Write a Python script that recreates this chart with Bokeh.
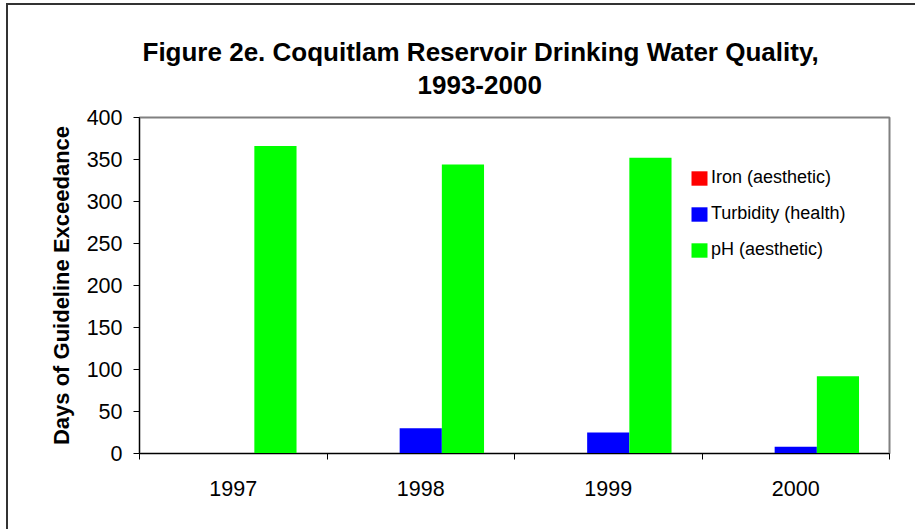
from bokeh.plotting import figure
from bokeh.models import ColumnDataSource, FixedTicker, Range1d, Legend, LegendItem, Title
from bokeh.transform import dodge
from bokeh.embed import file_html
from bokeh.resources import INLINE

# ---- data ----
years = ["1997", "1998", "1999", "2000"]
iron = [0, 0, 0, 0]
turbidity = [0, 30, 25, 8]
ph = [366, 344, 352, 92]
series_names = ["Iron (aesthetic)", "Turbidity (health)", "pH (aesthetic)"]
series_colors = ["#FF0000", "#0000FF", "#00FF00"]
y_ticks = [0, 50, 100, 150, 200, 250, 300, 350, 400]
title_line1 = "Figure 2e. Coquitlam Reservoir Drinking Water Quality,"
title_line2 = "1993-2000"
y_title = "Days of Guideline Exceedance"

FONT = "Liberation Sans"

pos = list(range(len(years)))
src = ColumnDataSource(dict(x=pos, iron=iron, turb=turbidity, ph=ph))

bg = ("linear-gradient(#333333,#333333) 6px 3px / 2px 100% no-repeat, "
      "linear-gradient(#333333,#333333) 6px 3px / 100% 2px no-repeat, #ffffff")

p = figure(width=915, height=529,
           x_range=Range1d(-0.5, len(years) - 0.5), y_range=Range1d(0, 400),
           output_backend="svg", toolbar_location=None,
           min_border_left=139, min_border_top=117, min_border_right=26, min_border_bottom=76,
           border_fill_color=None, background_fill_color="white",
           styles={"background": bg})

bw = 0.225
renderers = []
for col, off, color in zip(["iron", "turb", "ph"], [-bw, 0, bw], series_colors):
    r = p.vbar(x=dodge("x", off), top=col, width=bw, bottom=0, source=src,
               fill_color=color, line_color=None)
    renderers.append(r)

# axes
p.xaxis.ticker = FixedTicker(ticks=pos, minor_ticks=[i - 0.5 for i in range(len(years) + 1)])
p.xaxis.major_label_overrides = {i: y for i, y in zip(pos, years)}
p.xaxis.major_tick_out = 0
p.xaxis.major_tick_in = 0
p.xaxis.minor_tick_line_color = "black"
p.xaxis.minor_tick_out = 6
p.xaxis.minor_tick_in = 0
p.xaxis.major_label_standoff = 21

p.yaxis.ticker = FixedTicker(ticks=y_ticks)
p.yaxis.minor_tick_line_color = None
p.yaxis.major_tick_out = 6
p.yaxis.major_tick_in = 0
p.yaxis.major_label_standoff = 11
p.yaxis.axis_label = y_title
p.yaxis.axis_label_text_font = FONT
p.yaxis.axis_label_text_font_style = "bold"
p.yaxis.axis_label_text_font_size = "22px"
p.yaxis.axis_label_text_color = "black"
p.yaxis.axis_label_standoff = 10

for ax in (p.xaxis, p.yaxis):
    ax.axis_line_color = "black"
    ax.axis_line_width = 1
    ax.major_label_text_font = FONT
    ax.major_label_text_font_size = "21.5px"
    ax.major_label_text_color = "black"
p.yaxis.major_tick_line_color = "black"
p.xaxis.major_tick_line_color = None

p.xgrid.visible = False
p.ygrid.visible = False
p.outline_line_color = "#808080"
p.outline_line_width = 2

legend = Legend(items=[LegendItem(label=n, renderers=[r]) for n, r in zip(series_names, renderers)],
                location=(550, 193), border_line_color=None, background_fill_alpha=0,
                padding=0, margin=0, spacing=15, glyph_width=20, glyph_height=18,
                label_standoff=2, label_text_font=FONT, label_text_font_size="18px",
                label_text_color="black", label_height=20)
p.add_layout(legend)

# two-line title (second line nearest to the frame)
p.add_layout(Title(text=title_line2, align="left", offset=278, standoff=48,
                   vertical_align="bottom", text_font=FONT, text_font_style="bold",
                   text_font_size="26px", text_color="black"), "above")
p.add_layout(Title(text=title_line1, align="left", offset=3, standoff=-34,
                   vertical_align="bottom", text_font=FONT, text_font_style="bold",
                   text_font_size="26px", text_color="black"), "above")

open("out.html", "w").write(file_html(p, INLINE))
